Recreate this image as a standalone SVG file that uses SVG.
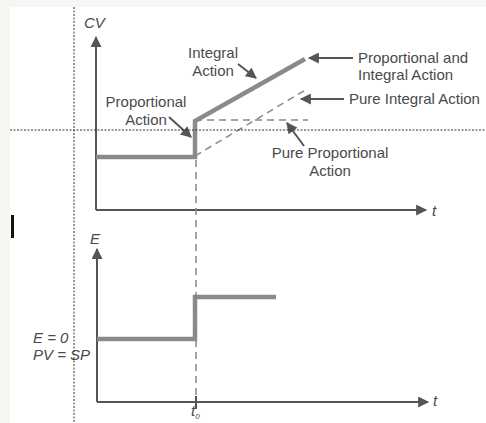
<svg xmlns="http://www.w3.org/2000/svg" width="486" height="423" viewBox="0 0 486 423">
  <style>
    .lbl { font-family: "Liberation Sans", Arial, sans-serif; font-size: 15px; fill: #4a4a4a; }
    .var { font-family: "Liberation Sans", Arial, sans-serif; font-size: 15px; font-style: italic; fill: #4a4a4a; }
    .axis { stroke: #555; stroke-width: 2; fill: none; }
    .trace { stroke: #8a8a8a; stroke-width: 4.5; fill: none; stroke-linejoin: miter; }
    .dash { stroke: #888; stroke-width: 1.5; fill: none; stroke-dasharray: 7 5; }
    .ptr { stroke: #555; stroke-width: 2; fill: none; }
    .guide { stroke: #333; stroke-width: 1; fill: none; stroke-dasharray: 2 1.5; }
  </style>
  <defs>
    <marker id="head" viewBox="0 0 10 10" refX="9" refY="5" markerWidth="6" markerHeight="5.5" orient="auto" markerUnits="strokeWidth">
      <path d="M0,0 L10,5 L0,10 Z" fill="#555"/>
    </marker>
  </defs>

  <!-- page background with lighter scan margin -->
  <rect width="486" height="423" fill="#f6f6f3"/>
  <rect x="10" y="7" width="476" height="416" fill="#ffffff"/>
  <rect x="11" y="215" width="3" height="23" fill="#111"/>

  <!-- upper plot: controller output CV -->
  <g id="cv-axes">
    <line class="axis" x1="96" y1="210" x2="96" y2="37" marker-end="url(#head)"/>
    <line class="axis" x1="96" y1="210" x2="426" y2="210" marker-end="url(#head)"/>
    <text class="var" x="84" y="28">CV</text>
    <text class="var" x="432" y="216">t</text>
  </g>

  <g id="cv-trace">
    <polyline class="trace" points="96,157 195,157 195,121 305,59"/>
  </g>

  <g id="pure-responses">
    <line class="dash" x1="195" y1="120" x2="308" y2="120"/>
    <line class="dash" x1="195" y1="156" x2="307" y2="89"/>
  </g>

  <!-- lower plot: error E -->
  <g id="e-axes">
    <line class="axis" x1="97" y1="402" x2="97" y2="249" marker-end="url(#head)"/>
    <line class="axis" x1="97" y1="402" x2="428" y2="402" marker-end="url(#head)"/>
    <line class="axis" x1="196" y1="396" x2="196" y2="409"/>
    <text class="var" x="90" y="244">E</text>
    <text class="var" x="433" y="406">t</text>
    <text class="var" x="191" y="416">t<tspan font-size="8" dy="3">0</tspan></text>
  </g>

  <g id="e-trace">
    <polyline class="trace" points="97,339 195,339 195,297 276,297"/>
  </g>

  <g id="baseline-label">
    <text class="var" x="33" y="343">E = 0</text>
    <text class="var" x="33" y="360">PV = SP</text>
  </g>

  <!-- step instant marker -->
  <g id="t0-line">
    <line class="dash" x1="196" y1="160" x2="196" y2="396"/>
  </g>

  <!-- callouts -->
  <g id="callout-proportional">
    <text class="lbl" x="146" y="107" text-anchor="middle">Proportional</text>
    <text class="lbl" x="146" y="125" text-anchor="middle">Action</text>
  </g>
  <g id="callout-integral">
    <text class="lbl" x="213" y="58" text-anchor="middle">Integral</text>
    <text class="lbl" x="213" y="76" text-anchor="middle">Action</text>
  </g>
  <g id="callout-pi">
    <text class="lbl" x="358" y="63">Proportional and</text>
    <text class="lbl" x="358" y="80">Integral Action</text>
  </g>
  <g id="callout-pure-integral">
    <text class="lbl" x="349" y="104">Pure Integral Action</text>
  </g>
  <g id="callout-pure-proportional">
    <text class="lbl" x="330" y="158" text-anchor="middle">Pure Proportional</text>
    <text class="lbl" x="330" y="176" text-anchor="middle">Action</text>
  </g>

  <g id="connectors">
    <line class="ptr" x1="169" y1="117" x2="191" y2="137" marker-end="url(#head)"/>
    <line class="ptr" x1="238" y1="64" x2="256" y2="78" marker-end="url(#head)"/>
    <line class="ptr" x1="353" y1="58" x2="309" y2="58" marker-end="url(#head)"/>
    <line class="ptr" x1="344" y1="99" x2="301" y2="99" marker-end="url(#head)"/>
    <line class="ptr" x1="304" y1="146" x2="287" y2="123" marker-end="url(#head)"/>
  </g>

  <!-- overlay guides -->
  <g id="guides">
    <line class="guide" x1="74" y1="7" x2="74" y2="423"/>
    <line class="guide" x1="10" y1="130" x2="486" y2="130"/>
  </g>
</svg>
